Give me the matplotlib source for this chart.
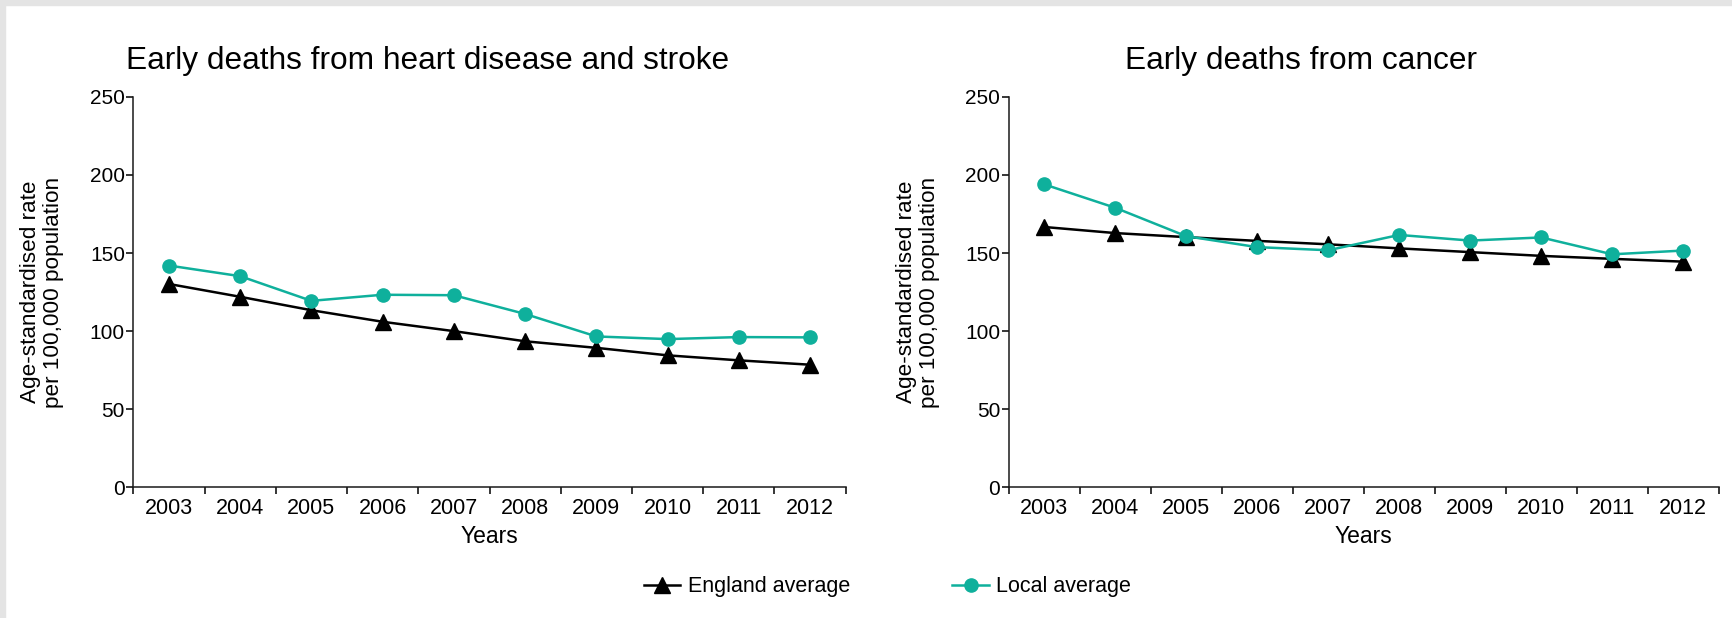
import numpy as np
import matplotlib.pyplot as plt
from matplotlib.patches import Rectangle
from matplotlib.lines import Line2D

plt.rcParams['font.family'] = ['Liberation Sans', 'DejaVu Sans']

years = ['2003', '2004', '2005', '2006', '2007', '2008', '2009', '2010', '2011', '2012']

# heart disease and stroke
heart_england = [130.2, 122.0, 113.4, 106.0, 100.0, 93.5, 89.3, 84.5, 81.3, 78.5]
heart_local = [142.0, 135.2, 119.4, 123.3, 123.0, 111.0, 96.6, 94.9, 96.2, 96.0]

# cancer
cancer_england = [166.7, 162.8, 160.2, 157.8, 155.6, 153.0, 150.6, 148.2, 146.3, 144.5]
cancer_local = [194.0, 179.0, 160.8, 153.8, 151.8, 161.6, 158.0, 160.0, 149.2, 151.6]

titles = ['Early deaths from heart disease and stroke', 'Early deaths from cancer']

teal = '#0fb09c'
W, H = 1733, 618

fig = plt.figure(figsize=(W / 100, H / 100), dpi=100)
fig.patch.set_facecolor('white')

# grey screenshot border on top and left
fig.patches.append(Rectangle((0, 1 - 5 / H), 1, 5 / H, transform=fig.transFigure,
                             color='#e4e4e4', zorder=0))
fig.patches.append(Rectangle((0, 0), 5 / W, 1, transform=fig.transFigure,
                             color='#e4e4e4', zorder=0))

ax1 = fig.add_axes([133.3 / W, 1 - 487.3 / H, 712.4 / W, 390.4 / H])
ax2 = fig.add_axes([1008.7 / W, 1 - 487.3 / H, 710.0 / W, 390.4 / H])

x = np.arange(len(years))
for ax, eng, loc in [(ax1, heart_england, heart_local), (ax2, cancer_england, cancer_local)]:
    ax.plot(x, eng, color='black', lw=1.8, marker='^', ms=11, zorder=3)
    ax.plot(x, loc, color=teal, lw=1.8, marker='o', ms=9.5, zorder=4)
    ax.set_xlim(-0.5, len(years) - 0.5)
    ax.set_ylim(0, 250)
    ax.set_yticks([0, 50, 100, 150, 200, 250])
    ax.set_xticks(x)
    ax.set_xticklabels(years)
    ax.set_xticks(np.arange(-0.5, len(years), 1.0), minor=True)
    ax.tick_params(axis='x', which='major', length=0, labelsize=15.5, pad=8)
    ax.tick_params(axis='x', which='minor', length=5, width=1.1, direction='out')
    ax.tick_params(axis='y', length=5, width=1.1, labelsize=15, pad=1)
    for s in ['top', 'right']:
        ax.spines[s].set_visible(False)
    for s in ['left', 'bottom']:
        ax.spines[s].set_linewidth(1.1)
        ax.spines[s].set_color('#1a1a1a')
    ax.set_xlabel('Years', fontsize=16.5, labelpad=4)
    ax.set_ylabel('Age-standardised rate\nper 100,000 population', fontsize=16.2,
                  linespacing=1.12)
    ax.yaxis.set_label_coords(-0.097, 0.5)

fig.text(427.5 / W, 1 - 61 / H, titles[0], ha='center', va='center', fontsize=22.8)
fig.text(1301 / W, 1 - 61 / H, titles[1], ha='center', va='center', fontsize=22.8)

handles = [Line2D([], [], color='black', lw=1.8, marker='^', ms=11),
           Line2D([], [], color=teal, lw=1.8, marker='o', ms=9.5)]
fig.legend(handles, ['England average', 'Local average'], loc='center',
           bbox_to_anchor=(887.5 / W, 1 - 586.7 / H), ncol=2, frameon=False,
           fontsize=15.5, handlelength=1.7, handletextpad=0.35, columnspacing=4.75)

fig.savefig('out.png', dpi=100)
